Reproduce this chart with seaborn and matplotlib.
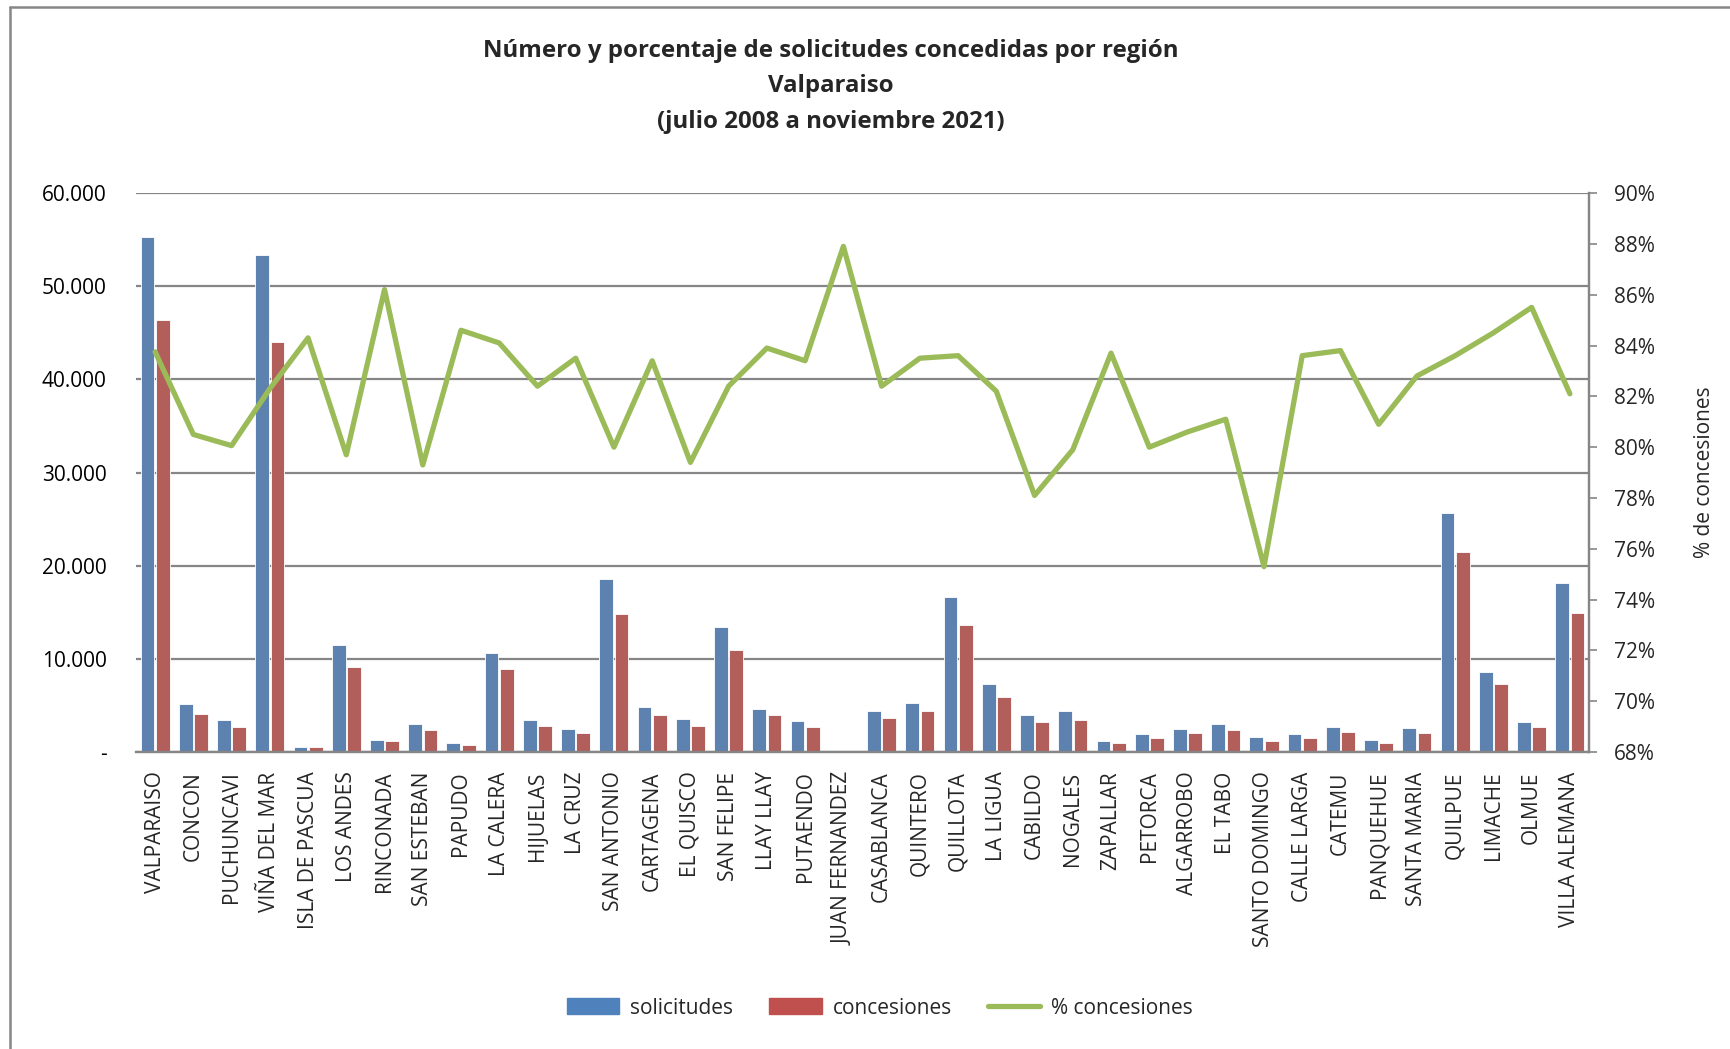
import numpy as np
import pandas as pd
import matplotlib
import matplotlib.pyplot as plt
import seaborn as sns
from matplotlib.ticker import FuncFormatter, MultipleLocator
from matplotlib.lines import Line2D

matplotlib.use("Agg")

# --- data ---
comunas = [
    "VALPARAISO", "CONCON", "PUCHUNCAVI", "VIÑA DEL MAR", "ISLA DE PASCUA",
    "LOS ANDES", "RINCONADA", "SAN ESTEBAN", "PAPUDO", "LA CALERA",
    "HIJUELAS", "LA CRUZ", "SAN ANTONIO", "CARTAGENA", "EL QUISCO",
    "SAN FELIPE", "LLAY LLAY", "PUTAENDO", "JUAN FERNANDEZ", "CASABLANCA",
    "QUINTERO", "QUILLOTA", "LA LIGUA", "CABILDO", "NOGALES",
    "ZAPALLAR", "PETORCA", "ALGARROBO", "EL TABO", "SANTO DOMINGO",
    "CALLE LARGA", "CATEMU", "PANQUEHUE", "SANTA MARIA", "QUILPUE",
    "LIMACHE", "OLMUE", "VILLA ALEMANA",
]
solicitudes = [
    55300, 5200, 3400, 53400, 600,
    11500, 1300, 3000, 1000, 10600,
    3400, 2500, 18600, 4800, 3600,
    13400, 4600, 3300, 100, 4400,
    5300, 16600, 7300, 4000, 4400,
    1200, 1900, 2500, 3000, 1600,
    1900, 2700, 1300, 2600, 25700,
    8600, 3200, 18200,
]
concesiones = [
    46400, 4100, 2700, 44000, 500,
    9100, 1200, 2400, 800, 8900,
    2800, 2100, 14800, 4000, 2800,
    11000, 4000, 2700, 80, 3700,
    4400, 13600, 5900, 3200, 3500,
    950, 1500, 2000, 2400, 1200,
    1500, 2200, 1000, 2100, 21500,
    7300, 2700, 14900,
]
pct_concesiones = [
    83.75, 80.5, 80.06, 82.3, 84.3,
    79.7, 86.2, 79.3, 84.6, 84.1,
    82.4, 83.5, 80.0, 83.4, 79.4,
    82.4, 83.9, 83.4, 87.9, 82.4,
    83.5, 83.6, 82.2, 78.1, 79.9,
    83.7, 80.0, 80.6, 81.1, 75.3,
    83.6, 83.8, 80.9, 82.8, 83.6,
    84.5, 85.5, 82.1,
]

BLUE = "#4F81BD"
RED = "#C0504D"
GREEN = "#9BBB59"
GRID = "#868686"

sns.set_theme(style="white")
plt.rcParams["font.family"] = ["Open Sans", "DejaVu Sans"]

bars = pd.DataFrame({
    "comuna": comunas * 2,
    "valor": solicitudes + concesiones,
    "serie": ["solicitudes"] * len(comunas) + ["concesiones"] * len(comunas),
})
pct = pd.DataFrame({"comuna": comunas, "pct": np.array(pct_concesiones) / 100})

fig = plt.figure(figsize=(17.30, 10.49), dpi=100)
ax = fig.add_axes([0.0786, 0.283, 0.9185 - 0.0786, 0.816 - 0.283])

sns.barplot(data=bars, x="comuna", y="valor", hue="serie", order=comunas,
            hue_order=["solicitudes", "concesiones"],
            palette=[BLUE, RED], width=0.8, gap=0.1,
            edgecolor="white", linewidth=0.6, ax=ax, legend=False)

ax.set_ylim(0, 60000)
ax.yaxis.set_major_locator(MultipleLocator(10000))
ax.yaxis.set_major_formatter(FuncFormatter(
    lambda v, p: "-" if v == 0 else f"{v:,.0f}".replace(",", ".")))
ax.grid(axis="y", color=GRID, linewidth=1.6)
ax.set_axisbelow(True)
ax.set_xlim(-0.5, len(comunas) - 0.5)
ax.set_xlabel("")
ax.set_ylabel("")
ax.tick_params(axis="y", labelsize=15, length=0, pad=21, colors="black")
ax.tick_params(axis="x", labelsize=15, length=0, pad=14, labelrotation=90)
for s in ["left", "top"]:
    ax.spines[s].set_visible(False)
for s in ["bottom", "right"]:
    ax.spines[s].set_color(GRID)
    ax.spines[s].set_linewidth(1.6)

ax2 = ax.twinx()
sns.lineplot(data=pct, x="comuna", y="pct", color=GREEN, linewidth=3.8,
             sort=False, ax=ax2, legend=False)
ax2.set_ylim(0.68, 0.90)
ax2.yaxis.set_major_locator(MultipleLocator(0.02))
ax2.yaxis.set_major_formatter(FuncFormatter(lambda v, p: f"{v * 100:.0f}%"))
ax2.tick_params(axis="y", labelsize=15, length=6, width=1.2, color=GRID, pad=12)
ax2.set_ylabel("% de concesiones", fontsize=15, labelpad=28)
ax2.set_xlabel("")
for s in ["left", "top"]:
    ax2.spines[s].set_visible(False)
ax2.spines["right"].set_color(GRID)
ax2.spines["right"].set_linewidth(1.6)
ax2.spines["bottom"].set_color(GRID)
ax2.spines["bottom"].set_linewidth(1.6)
ax2.set_xlim(-0.5, len(comunas) - 0.5)

title_lines = ["Número y porcentaje de solicitudes concedidas por región",
               "Valparaiso",
               "(julio 2008 a noviembre 2021)"]
for y, line in zip([0.951, 0.918, 0.884], title_lines):
    fig.text(0.48, y, line, ha="center", va="center",
             fontsize=17.3, fontweight="bold")

handles = [
    plt.Rectangle((0, 0), 1, 1, color=BLUE),
    plt.Rectangle((0, 0), 1, 1, color=RED),
    Line2D([0], [0], color=GREEN, linewidth=3.8),
]
fig.legend(handles, ["solicitudes", "concesiones", "% concesiones"],
           loc="center", bbox_to_anchor=(0.5087, 0.039), ncol=3, frameon=False,
           fontsize=15, handlelength=2.5, handleheight=0.82, columnspacing=1.73,
           handletextpad=0.53)

# chart frame (only left and top edges visible in the reference)
fig.add_artist(Line2D([10 / 1730, 10 / 1730], [0, 1 - 7 / 1049],
                      color=GRID, linewidth=1.8, transform=fig.transFigure))
fig.add_artist(Line2D([10 / 1730, 1], [1 - 7 / 1049, 1 - 7 / 1049],
                      color=GRID, linewidth=1.8, transform=fig.transFigure))

fig.savefig("out.png", dpi=100)
